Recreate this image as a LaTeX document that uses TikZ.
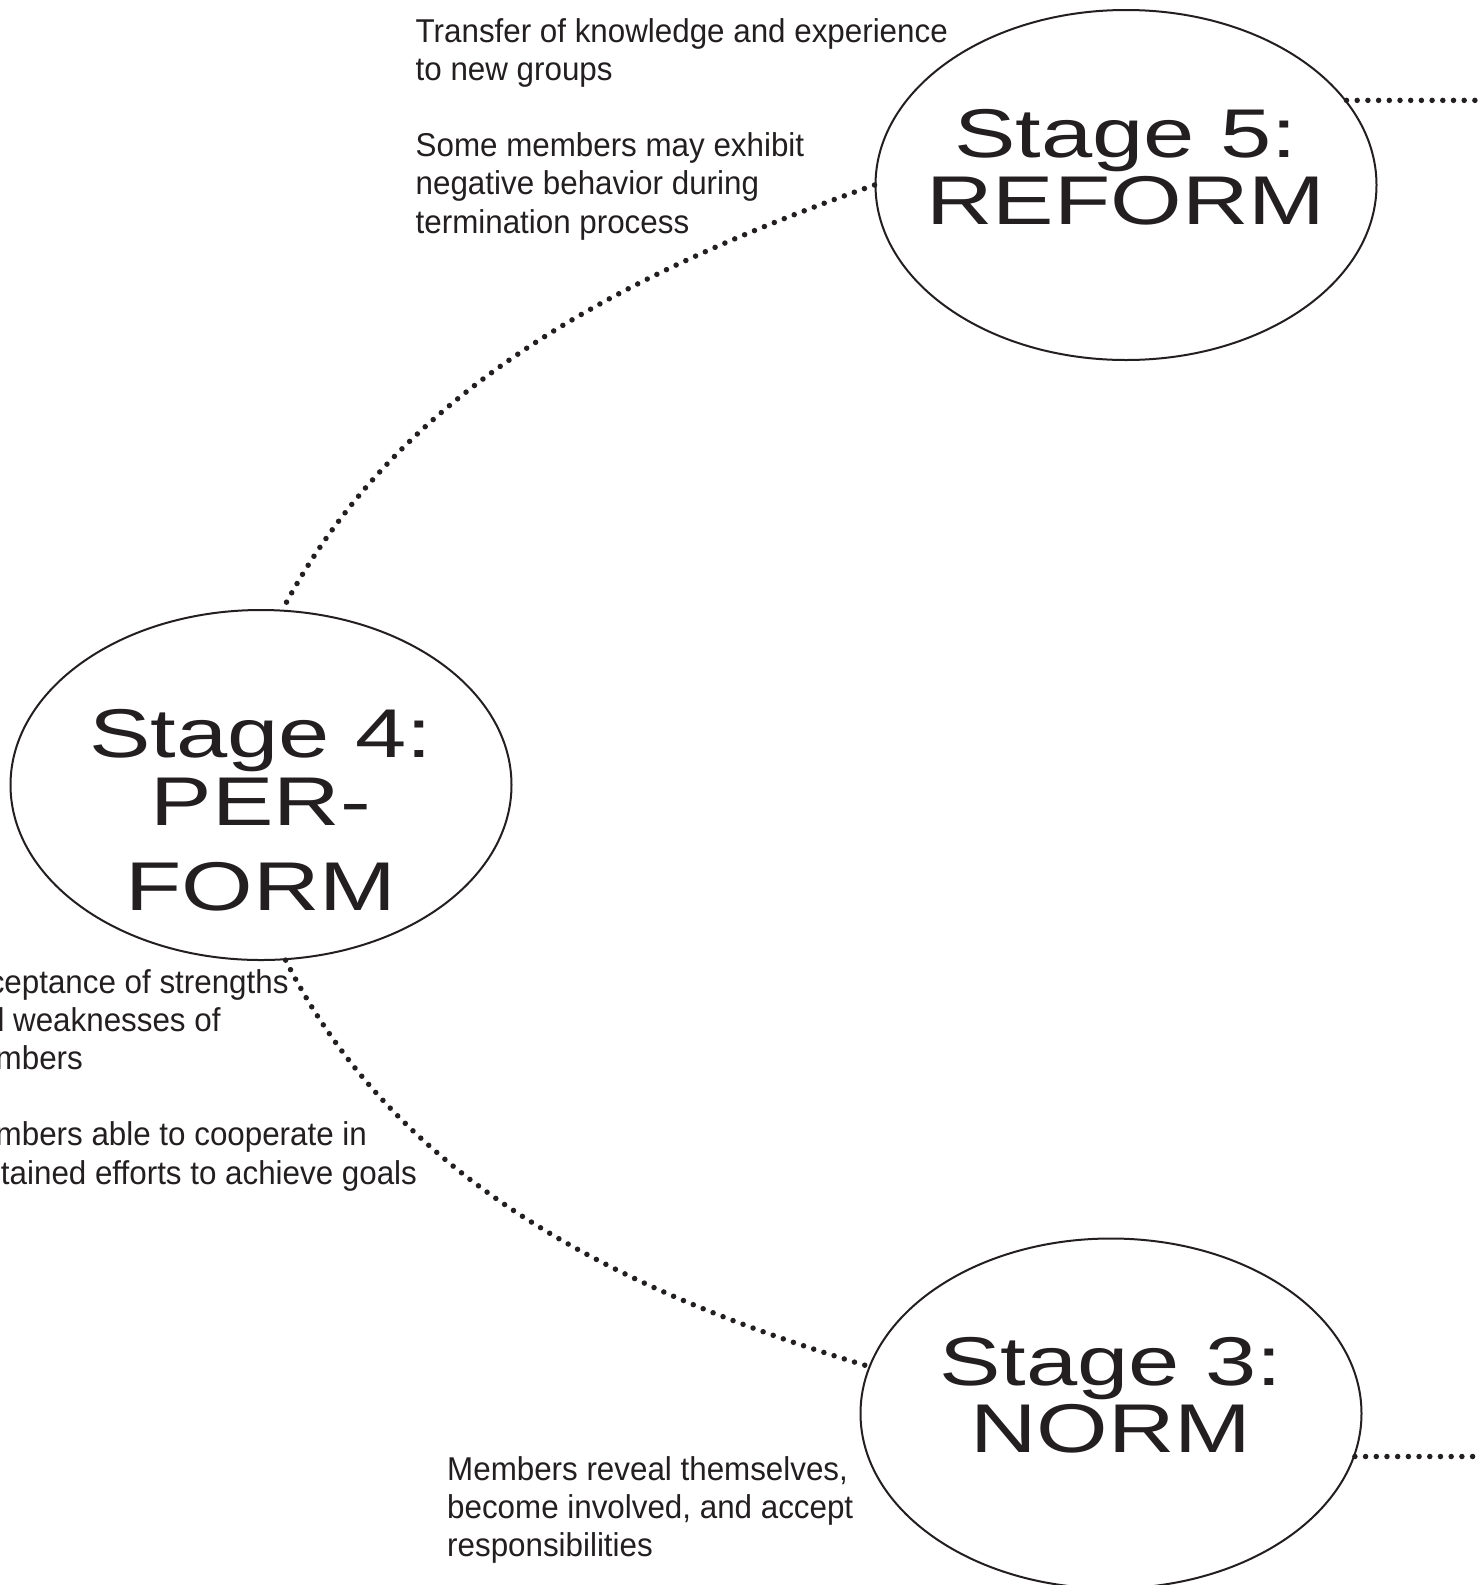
\documentclass[tikz,border=0pt]{standalone}
\usepackage{fontspec}
\setmainfont{Liberation Sans}
\newfontfamily\stagefont[FakeStretch=1.335]{Liberation Sans}
\newfontfamily\notefont[FakeStretch=0.95]{Liberation Sans}
\usetikzlibrary{shapes.geometric}
\definecolor{ink}{RGB}{35,31,32}
\tikzset{
  stage/.style={draw=ink, ellipse, line width=2pt, minimum width=501pt, minimum height=350pt, inner sep=0pt},
  stagetext/.style={anchor=base, inner sep=0pt, text=ink, font=\stagefont\fontsize{69}{68}\selectfont},
  note/.style={anchor=base west, inner sep=0pt, text=ink, font=\notefont\fontsize{33}{38.2}\selectfont},
  dotline/.style={draw=ink, line width=5.5pt, line cap=round, dash pattern=on 0pt off 10.7pt},
}
\begin{document}
\begin{tikzpicture}[x=1pt,y=-1pt]
\useasboundingbox (0,0) rectangle (1479,1585);
\fill[white] (0,0) rectangle (1479,1585);
\clip (0,0) rectangle (1479,1585);

% stages
\node[stage] (s5) at (1126,185) {};
\node[stage] (s4) at (261,785) {};
\node[stage] (s3) at (1111,1413.5) {};

% stage labels
\node[stagetext] (s5a) at (1126,157) {Stage 5:};
\node[stagetext] (s5b) at (1126,224) {REFORM};
\node[stagetext] (s4a) at (261,757) {Stage 4:};
\node[stagetext] (s4b) at (261,825) {PER-};
\node[stagetext] (s4c) at (261,910) {FORM};
\node[stagetext] (s3a) at (1111,1385) {Stage 3:};
\node[stagetext] (s3b) at (1111,1452.5) {NORM};

% notes
\node[note] (n5) at (415.5,42) {\begin{tabular}[t]{@{}l@{}}Transfer of knowledge and experience\\to new groups\\ \\Some members may exhibit\\negative behavior during\\termination process\end{tabular}};
\node[note] (n4) at (-48,993) {\begin{tabular}[t]{@{}l@{}}Acceptance of strengths\\and weaknesses of\\members\\ \\Members able to cooperate in\\sustained efforts to achieve goals\end{tabular}};
\node[note] (n3) at (447,1480) {\begin{tabular}[t]{@{}l@{}}Members reveal themselves,\\become involved, and accept\\responsibilities\end{tabular}};

% connectors
\coordinate (e5) at (1495,101);
\coordinate (e3) at (1495,1456);
\draw[dotline] (s5.west) .. controls (631,271) and (401,384) .. (s4.83);
\draw[dotline] (s4.-82) .. controls (399,1185) and (625,1293) .. (s3.169);
\draw[dotline] (s5.21) -- (s5.21 -| e5);
\draw[dotline] (s3.-10) -- (s3.-10 -| e3);
\end{tikzpicture}
\end{document}
